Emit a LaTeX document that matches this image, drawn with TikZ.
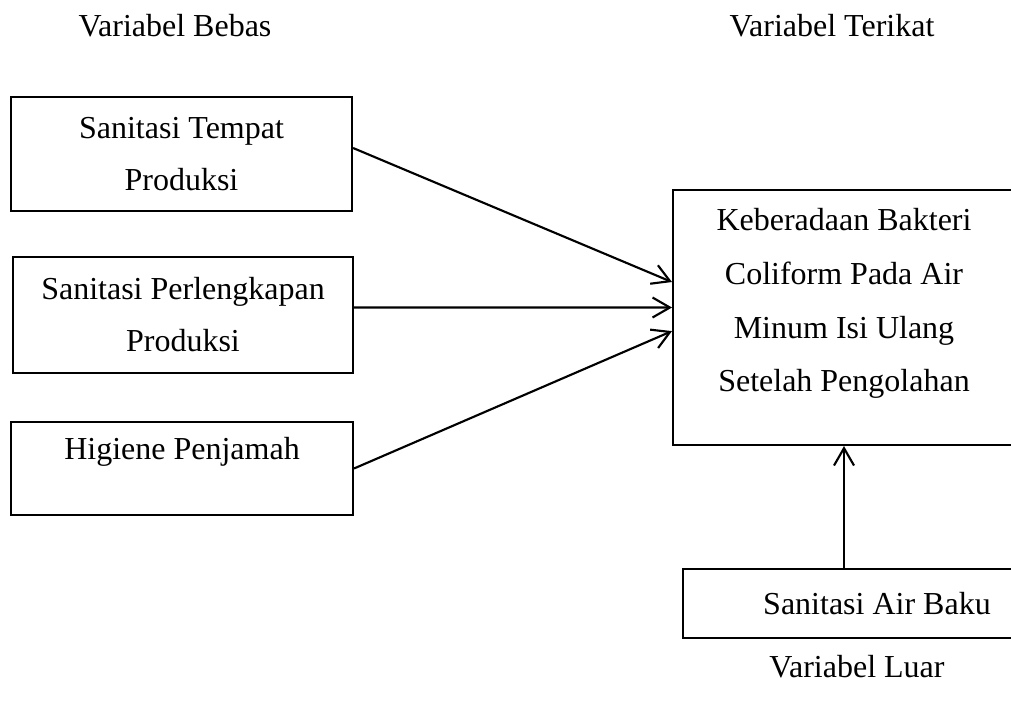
\documentclass[tikz,border=0pt]{standalone}
\usepackage{fontspec}
\setmainfont{Liberation Serif}
\usetikzlibrary{arrows.meta}
\usetikzlibrary{positioning}

\begin{document}
\begin{tikzpicture}[x=0.375pt,y=-0.375pt]
		\useasboundingbox (0,0) rectangle (1011,702);
		\clip (0,0) rectangle (1011,702);
		\tikzstyle{every node}=[font=\fontsize{12}{19.5}\selectfont, align=center];
		\tikzstyle{kotak}=[draw, line width=0.8pt, inner sep=0pt];
		\tikzstyle{panah}=[line width=0.8pt, -{Straight Barb[length=6.5pt,width=7.5pt,line width=0.8pt]}];
		\path (175,26)  node (bebas) {Variabel Bebas};
		\path (832,26)  node (terikat) {Variabel Terikat};
		\path (857,667) node (luar) {Variabel Luar};
		\path (181.5,154) node[kotak, minimum width=127.9pt, minimum height=42.8pt] (b1) {Sanitasi Tempat\\Produksi};
		\path (183,315)   node[kotak, minimum width=127.5pt, minimum height=43.5pt] (b2) {Sanitasi Perlengkapan\\Produksi};
		\path (182,468.5) node[kotak, minimum width=128.2pt, minimum height=34.9pt] (b3) {};
		\path (182,452)   node (t3) {Higiene Penjamah};
		\path (844,317.5) node[kotak, minimum width=128.2pt, minimum height=95.6pt] (kb) {};
		\path (844,303.5) node[font=\fontsize{12}{20.2}\selectfont] (tkb) {Keberadaan Bakteri\\Coliform Pada Air\\Minum Isi Ulang\\Setelah Pengolahan};
		\path (877,603.5) node[kotak, minimum width=145.5pt, minimum height=25.9pt] (sa) {Sanitasi Air Baku};
		\draw[panah] ([yshift=2.25pt]b1.east) -- ([yshift=13.3pt]kb.west);
		\draw[panah] ([yshift=2.8pt]b2.east) -- ([yshift=3.75pt]kb.west);
		\draw[panah] (b3.east) -- ([yshift=-5.1pt]kb.west);
		\draw[panah] (sa.north -| kb.south) -- (kb.south);
\end{tikzpicture}
\end{document}
